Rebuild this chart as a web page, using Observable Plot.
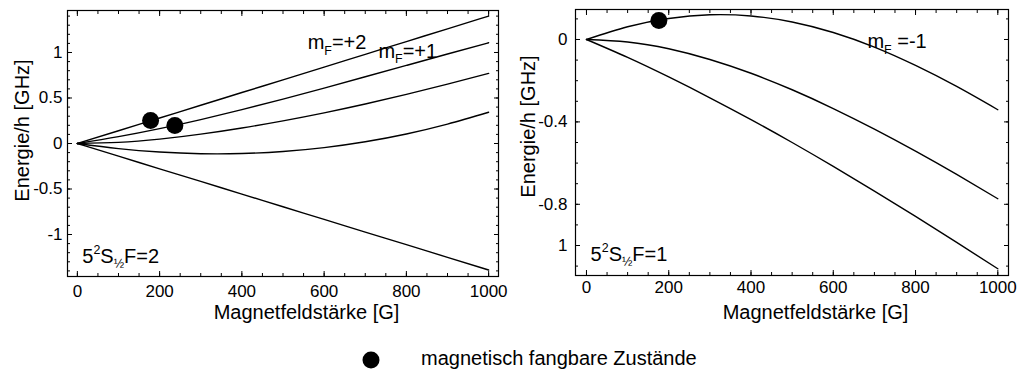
<!DOCTYPE html>
<html>
<head>
<meta charset="utf-8">
<script src="https://cdn.jsdelivr.net/npm/d3@7"></script>
<script src="https://cdn.jsdelivr.net/npm/@observablehq/plot@0.6"></script>
<style>
  body { margin: 0; background: #fff; }
  #wrap { position: relative; width: 1019px; height: 371px; overflow: hidden; background: #fff;
          font-family: "Liberation Sans", Arial, sans-serif; }
  #left { position: absolute; left: 0; top: 0; }
  #right { position: absolute; left: 509px; top: 0; }
  #legend { position: absolute; left: 0; top: 330px; }
</style>
</head>
<body>
<div id="wrap">
  <div id="left"></div>
  <div id="right"></div>
  <svg id="legend" width="1019" height="41"></svg>
</div>
<script>
// ---------- data ----------
const field = [0, 100, 200, 300, 400, 500, 600, 700, 800, 900, 1000];

// 5²S½ F=2 (GHz)
const f2_mPlus2  = [0, 0.14, 0.28, 0.42, 0.56, 0.70, 0.84, 0.98, 1.12, 1.26, 1.40];
const f2_mPlus1  = [0, 0.075, 0.163, 0.263, 0.372, 0.488, 0.609, 0.733, 0.858, 0.983, 1.107];
const f2_m0      = [0, 0.012, 0.048, 0.103, 0.171, 0.249, 0.337, 0.434, 0.54, 0.653, 0.77];
const f2_mMinus1 = [0, -0.056, -0.094, -0.112, -0.11, -0.088, -0.045, 0.019, 0.105, 0.213, 0.343];
const f2_mMinus2 = [0, -0.139, -0.278, -0.417, -0.556, -0.695, -0.834, -0.973, -1.112, -1.251, -1.39];

// 5²S½ F=1 (GHz)
const f1_mMinus1 = [0, 0.062, 0.102, 0.12, 0.114, 0.085, 0.034, -0.037, -0.126, -0.228, -0.341];
const f1_m0      = [0, -0.012, -0.045, -0.097, -0.164, -0.244, -0.335, -0.435, -0.542, -0.655, -0.773];
const f1_mPlus1  = [0, -0.087, -0.182, -0.283, -0.389, -0.5, -0.616, -0.736, -0.859, -0.985, -1.113];

// trappable states (dots)
const trapF2_B = [178, 237];
const trapF2_E = [0.252, 0.197];
const trapF1_B = [176];
const trapF1_E = [0.092];

// ticks
const xMajor = [0, 200, 400, 600, 800, 1000];
const xTickLabels = ["0", "200", "400", "600", "800", "1000"];
const xMinor = d3.range(0, 1001, 50);
const leftYTicks = [-1, -0.5, 0, 0.5, 1];
const leftYTickLabels = ["-1", "-0.5", "0", "0.5", "1"];
const leftYMinor = d3.range(-14, 15).map(v => v / 10);
const rightYTicks = [0, -0.4, -0.8, -1];
const rightYTickLabels = ["0", "-0.4", "-0.8", "1"];
const rightYMinor = d3.range(-11, 2).map(v => v / 10);

// texts
const xTitle = "Magnetfeldstärke [G]";
const yTitle = "Energie/h [GHz]";
const legendLabel = "magnetisch fangbare Zustände";
const leftNotesMF = [{B: 560, E: 1.034, t: "m_F=+2"}, {B: 732, E: 0.942, t: "m_F=+1"}];
const leftNotesState = [{B: 12, E: -1.311, t: "5^2S_½F=2"}];
const rightNotesMF = [{B: 683, E: -0.042, t: "m_F =-1"}];
const rightNotesState = [{B: 10, E: -1.073, t: "5^2S_½F=1"}];

// ---------- helpers ----------
const FONT = "Liberation Sans, Arial, sans-serif";

function toRows(names, arrays) {
  const rows = [];
  arrays.forEach((arr, k) => arr.forEach((v, i) => rows.push({B: field[i], E: v, s: names[k]})));
  return rows;
}
function toDots(bs, es) { return bs.map((b, i) => ({B: b, E: es[i]})); }

function panel(o) {
  return Plot.plot({
    width: o.width, height: o.height,
    marginLeft: o.ml, marginRight: o.mr, marginTop: o.mt, marginBottom: o.mb,
    style: {fontFamily: FONT, color: "black", background: "white", overflow: "visible"},
    x: {domain: o.xDomain, label: null},
    y: {domain: o.yDomain, label: null},
    marks: [
      Plot.frame({stroke: "black", strokeWidth: 1.2}),
      // inward ticks on all four sides
      Plot.axisX({anchor: "bottom", ticks: xMinor, tickSize: -3, text: null, label: null}),
      Plot.axisX({anchor: "top", ticks: xMinor, tickSize: -3, text: null, label: null}),
      Plot.axisX({anchor: "bottom", ticks: xMajor, tickSize: -5, text: null, label: null}),
      Plot.axisX({anchor: "top", ticks: xMajor, tickSize: -5, text: null, label: null}),
      Plot.axisY({anchor: "left", ticks: o.yMinor, tickSize: -3, text: null, label: null}),
      Plot.axisY({anchor: "right", ticks: o.yMinor, tickSize: -3, text: null, label: null}),
      Plot.axisY({anchor: "left", ticks: o.yTicks, tickSize: -5, text: null, label: null}),
      Plot.axisY({anchor: "right", ticks: o.yTicks, tickSize: -5, text: null, label: null}),
      // tick labels
      Plot.axisX({anchor: "bottom", ticks: xMajor, tickSize: 0, tickPadding: o.xPad, fontSize: 17,
                  tickFormat: d => xTickLabels[xMajor.indexOf(d)], label: null}),
      Plot.axisY({anchor: "left", ticks: o.yTicks, tickSize: 0, tickPadding: o.yPad, fontSize: 17,
                  tickFormat: d => o.yTickLabels[o.yTicks.indexOf(d)], label: null}),
      // curves
      Plot.line(o.rows, {x: "B", y: "E", z: "s", curve: "natural", stroke: "black", strokeWidth: 1.4}),
      Plot.dot(o.dots, {x: "B", y: "E", r: 8.5, fill: "black", stroke: "none"}),
      // annotations
      Plot.text(o.notesMF, {x: "B", y: "E", text: "t", textAnchor: "start", lineAnchor: "bottom", fontSize: 20, fill: "black"}),
      Plot.text(o.notesState, {x: "B", y: "E", text: "t", textAnchor: "start", lineAnchor: "bottom", fontSize: 20, fill: "black"}),
      // axis titles
      Plot.text([xTitle], {text: d => d, frameAnchor: "bottom", textAnchor: "middle", dx: o.xtDx, dy: o.xtDy, lineAnchor: "bottom", fontSize: 20, fill: "black"}),
      Plot.text([yTitle], {text: d => d, frameAnchor: "left", textAnchor: "middle", rotate: -90, dx: o.ytDx, dy: o.ytDy, lineAnchor: "middle", fontSize: 20, fill: "black"})
    ]
  });
}

// convert "_X" to subscript and "^X" to superscript tspans
function richify(svg) {
  svg.querySelectorAll("text").forEach(t => {
    const s = t.textContent;
    if (!/[_^]/.test(s)) return;
    const holder = t.closest("[font-size]");
    const fs = parseFloat(t.getAttribute("font-size") || (holder && holder.getAttribute("font-size")) || 17);
    const segs = [];
    for (let i = 0; i < s.length; i++) {
      const c = s[i];
      if ((c === "_" || c === "^") && i + 1 < s.length) {
        segs.push({txt: s[i + 1], kind: c === "_" ? "sub" : "sup"});
        i++;
      } else {
        const last = segs[segs.length - 1];
        if (last && last.kind === "n") last.txt += c; else segs.push({txt: c, kind: "n"});
      }
    }
    while (t.firstChild) t.removeChild(t.firstChild);
    let cur = 0;
    segs.forEach(seg => {
      const target = seg.kind === "sub" ? 0.28 * fs : seg.kind === "sup" ? -0.42 * fs : 0;
      const ts = document.createElementNS("http://www.w3.org/2000/svg", "tspan");
      ts.setAttribute("dy", (target - cur).toFixed(2));
      if (seg.kind !== "n") ts.setAttribute("font-size", (0.62 * fs).toFixed(1));
      ts.textContent = seg.txt;
      t.appendChild(ts);
      cur = target;
    });
  });
}

// ---------- left panel: F=2 ----------
const leftSvg = panel({
  width: 509, height: 330, ml: 67, mr: 11, mt: 10, mb: 54,
  xDomain: [-24, 1024], yDomain: [-1.4615, 1.4615],
  yTicks: leftYTicks, yTickLabels: leftYTickLabels, yMinor: leftYMinor, yPad: 5, xPad: 8,
  rows: toRows(["+2", "+1", "0", "-1", "-2"], [f2_mPlus2, f2_mPlus1, f2_m0, f2_mMinus1, f2_mMinus2]),
  dots: toDots(trapF2_B, trapF2_E),
  notesMF: leftNotesMF, notesState: leftNotesState,
  xtDx: 23.5, xtDy: 42, ytDx: -45, ytDy: -13
});
richify(leftSvg);
document.getElementById("left").appendChild(leftSvg);

// ---------- right panel: F=1 ----------
const rightSvg = panel({
  width: 510, height: 330, ml: 66, mr: 11, mt: 9, mb: 55,
  xDomain: [-26.7, 1026], yDomain: [-1.1456, 0.1456],
  yTicks: rightYTicks, yTickLabels: rightYTickLabels, yMinor: rightYMinor, yPad: 8, xPad: 5,
  rows: toRows(["-1", "0", "+1"], [f1_mMinus1, f1_m0, f1_mPlus1]),
  dots: toDots(trapF1_B, trapF1_E),
  notesMF: rightNotesMF, notesState: rightNotesState,
  xtDx: 23.5, xtDy: 43, ytDx: -47, ytDy: -16
});
richify(rightSvg);
document.getElementById("right").appendChild(rightSvg);

// ---------- legend ----------
const lg = d3.select("#legend");
lg.append("circle").attr("cx", 371).attr("cy", 30).attr("r", 8.5).attr("fill", "black");
lg.append("text").attr("x", 421).attr("y", 35)
  .attr("font-family", FONT).attr("font-size", 20).attr("fill", "black")
  .text(legendLabel);
</script>
</body>
</html>
